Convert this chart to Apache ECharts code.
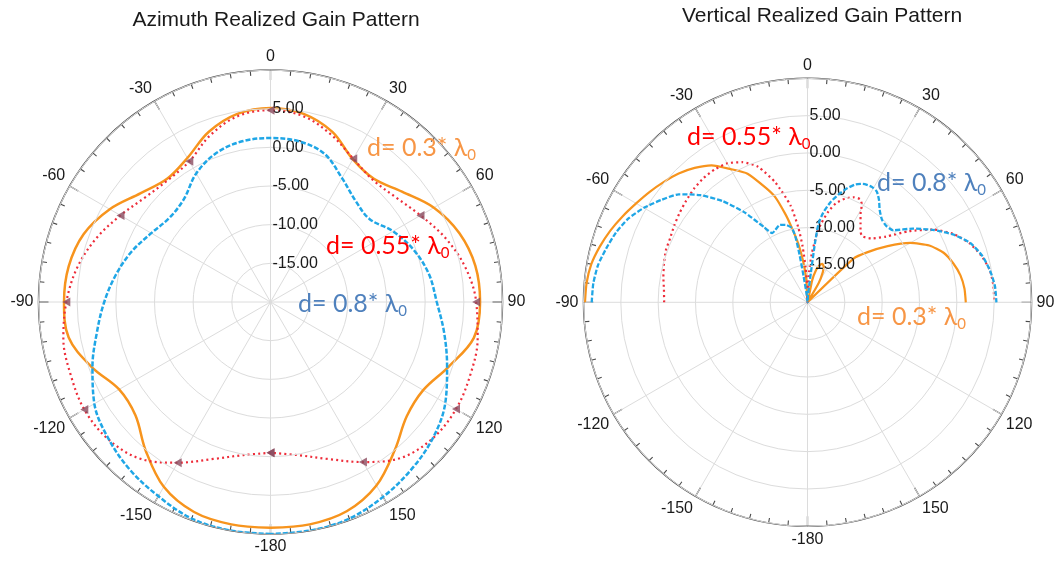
<!DOCTYPE html>
<html>
<head>
<meta charset="utf-8">
<title>Realized Gain Patterns</title>
<script src="https://cdn.jsdelivr.net/npm/echarts@6/dist/echarts.min.js"></script>
<style>
  html, body { margin: 0; padding: 0; background: #ffffff; }
  #chart { width: 1056px; height: 566px; }
</style>
</head>
<body>
<div id="chart"></div>
<script>
// ---------- Azimuth cut (degrees, dB), sampled every 10 degrees ----------
const aziAngles = [-180,-170,-160,-150,-140,-130,-120,-110,-100,-90,-80,-70,-60,-50,-40,-30,-20,-10,
                   0,10,20,30,40,50,60,70,80,90,100,110,120,130,140,150,160,170,180];
const aziGain03  = [9.2,9.2,8.9,7.6,5.1,2.8,2.6,4.6,6.5,6.7,6.5,5.7,4.0,1.9,0.8,1.5,3.4,4.7,
                    5.1,4.7,3.4,1.3,0.8,2.2,4.4,6.0,6.9,7.1,6.7,4.5,2.8,3.0,5.0,7.4,8.8,9.2,9.2];
const aziGain055 = [-0.5,0.1,1.6,4.0,6.4,7.5,7.8,7.5,7.2,6.4,5.4,4.0,2.4,1.1,0.6,1.0,2.9,4.4,
                    4.8,4.4,3.0,1.4,0.6,1.1,2.4,4.1,5.6,6.6,7.2,7.5,7.7,7.4,6.3,3.9,1.6,0.1,-0.5];
const aziGain08  = [10.0,10.0,9.8,9.0,8.3,7.4,6.3,4.5,2.8,1.5,0.3,-0.9,-2.2,-3.0,-2.6,-0.8,0.5,1.1,
                    1.2,1.1,0.4,-1.5,-2.9,-3.3,-1.7,-0.3,0.8,1.5,2.8,4.3,6.1,7.4,8.3,9.1,9.8,10.0,10.0];
// Marker positions on the 0.55 curve
const aziMarkerAngles = [-180,-150,-120,-90,-60,-30,0,30,60,90,120,150,180];

// ---------- Vertical cut (degrees, dB) ----------
const vAngles03 = [-90,-85,-80,-75,-70,-65,-60,-55,-50,-45,-40,-35,-30,-25,-20,-17,-14,-12,-9,-6,-3,0,
                   10,12,15,18,21,24,27,30,32,45,46.5,50,55,60,65,70,75,80,85,90];
const vGain03   = [9.8,9.7,9.4,8.8,8.1,7.3,6.5,5.8,5.1,4.4,3.5,2.4,0.6,-1.0,-3.7,-5.3,-7.9,-9.7,-12.0,-14.5,-17.0,-20,
                   -20,-17.0,-15.5,-14.8,-14.5,-14.7,-15.5,-17.0,-20,-20,-11.5,-9.6,-6.9,-4.1,-2.0,-0.6,0.2,0.8,1.1,1.2];

const vAngles055 = [-90,-85,-80,-75,-70,-65,-60,-55,-50,-45,-40,-35,-30,-25,-20,-15,-10,-7,-5,-3,-1,0,
                    3,5,8,10,13,16,20,24,27,29,31,34,37,40,45,50,55,60,65,70,75,80,85,90];
const vGain055   = [-0.8,-0.7,-0.4,-0.1,0.2,0.3,0.6,0.9,1.2,1.5,1.7,1.7,1.5,0.7,-0.7,-3.4,-6.8,-9.9,-12.5,-15.5,-18.5,-20,
                    -16,-13.5,-10.5,-9.2,-7.5,-6.2,-5.2,-4.6,-4.5,-5.0,-6.2,-7.3,-8.2,-8.5,-7.9,-6.3,-3.4,-0.5,1.6,3.1,4.1,4.8,5.0,5.0];

const vAngles08 = [-90,-85,-80,-75,-70,-65,-60,-55,-50,-45,-40,-35,-30,-27,-24,-20,-16,-12,-10.5,-9.5,-8.5,-6,0,
                   4,6.5,7.2,8,10,13,16,19,22,25,29,32,35,38,42,46,50,55,60,65,70,75,80,85,90];
const vGain08   = [8.9,8.8,8.5,7.9,7.3,6.5,5.3,3.9,2.5,0.3,-2.3,-5.3,-8.4,-9.6,-9.4,-9.0,-9.2,-9.8,-11.0,-13.5,-16.5,-19.0,-20,
                   -19.0,-16.0,-12.0,-9.3,-7.8,-6.2,-5.0,-3.9,-3.0,-2.5,-2.3,-2.5,-3.3,-4.3,-5.1,-5.3,-5.0,-2.8,-0.6,1.5,3.2,4.2,4.8,5.2,5.3];

// ---------- Axis settings ----------
const gainMin = -20, gainMax = 10, gainStep = 5;
const gainTickLabels = [-15, -10, -5, 0, 5];
const angleStep = 30;

const COLOR_03 = '#F7941D';
const COLOR_055 = '#EE2D3A';
const COLOR_08 = '#1FA6E6';
const MARKER_COLOR = '#8A4A5E';
const AXIS_COLOR = '#4a4a4a';
const FONT = '"Liberation Sans", Arial, sans-serif';
const NOTE_FONT = 'Lato, "Open Sans", sans-serif';

// 0 at top, clockwise; angles past 180 are labelled as negative
const wrap = a => ((a % 360) + 360) % 360;
const toPolar = (angles, gains) => angles.map((a, i) => [gains[i], wrap(a)]);

function angleAxis(polarIndex) {
  return {
    polarIndex,
    type: 'value', min: 0, max: 360, interval: angleStep,
    startAngle: 90, clockwise: true,
    axisLine: { show: true, lineStyle: { color: AXIS_COLOR, width: 1.5 } },
    axisTick: { show: true, inside: true, length: 10, lineStyle: { color: AXIS_COLOR, width: 1.3 } },
    minorTick: { show: true, splitNumber: 6, length: 5, lineStyle: { color: AXIS_COLOR, width: 1.1 } },
    axisLabel: {
      margin: 5, fontSize: 16, color: '#1a1a1a', fontFamily: FONT,
      formatter: v => (v === 360 ? '' : String(v >= 180 ? v - 360 : v))
    },
    splitLine: { show: true, lineStyle: { color: '#dcdcdc', width: 1 } }
  };
}

function radiusAxis(polarIndex) {
  return {
    polarIndex,
    type: 'value', min: gainMin, max: gainMax, interval: gainStep,
    axisLine: { show: false }, axisTick: { show: false },
    axisLabel: {
      margin: -2, align: 'left', verticalAlign: 'middle', padding: [0, 0, 8, 0],
      fontSize: 16, color: '#1a1a1a', fontFamily: FONT,
      formatter: v => (gainTickLabels.indexOf(v) >= 0 ? v.toFixed(2) : '')
    },
    splitLine: { show: true, lineStyle: { color: '#dcdcdc', width: 1 } },
    z: 5
  };
}

function gainLine(polarIndex, angles, gains, color, type, width, smooth, z) {
  return {
    type: 'line', coordinateSystem: 'polar', polarIndex,
    data: toPolar(angles, gains),
    symbol: 'none', showSymbol: false, smooth, clip: false,
    lineStyle: { color, width, type, cap: 'butt' },
    z
  };
}

function note(x, y, main, color) {
  return {
    type: 'text', x, y, z: 100,
    style: {
      text: '{m|' + main + '}{s|0}',
      align: 'left', verticalAlign: 'middle',
      rich: {
        m: { fontSize: 25, fontFamily: NOTE_FONT, fill: color, lineHeight: 30 },
        s: { fontSize: 15, fontFamily: NOTE_FONT, fill: color, lineHeight: 12, verticalAlign: 'bottom' }
      }
    }
  };
}

const markerData = aziMarkerAngles.map(a => [aziGain055[aziAngles.indexOf(a)], wrap(a)]);

const chart = echarts.init(document.getElementById('chart'), null, { renderer: 'canvas' });
chart.setOption({
  animation: false,
  backgroundColor: '#ffffff',
  title: [
    { text: 'Azimuth Realized Gain Pattern', left: 271, top: 5, textAlign: 'center',
      textStyle: { fontSize: 21, fontWeight: 'normal', color: '#1a1a1a', fontFamily: FONT } },
    { text: 'Vertical Realized Gain Pattern', left: 817, top: 1, textAlign: 'center',
      textStyle: { fontSize: 21, fontWeight: 'normal', color: '#1a1a1a', fontFamily: FONT } }
  ],
  polar: [
    { center: [270.5, 302], radius: 232 },
    { center: [807.5, 302.3], radius: 224 }
  ],
  angleAxis: [angleAxis(0), angleAxis(1)],
  radiusAxis: [radiusAxis(0), radiusAxis(1)],
  series: [
    gainLine(0, aziAngles, aziGain03, COLOR_03, 'solid', 2.5, 0.35, 3),
    gainLine(0, aziAngles, aziGain055, COLOR_055, [2, 3.2], 2.2, 0.35, 4),
    gainLine(0, aziAngles, aziGain08, COLOR_08, [5, 2], 2.5, 0.35, 5),
    {
      type: 'scatter', coordinateSystem: 'polar', polarIndex: 0,
      data: markerData, symbol: 'triangle', symbolRotate: 90, symbolSize: [9, 8],
      itemStyle: { color: MARKER_COLOR }, z: 6
    },
    gainLine(1, vAngles03, vGain03, COLOR_03, 'solid', 2.2, 0.2, 3),
    gainLine(1, vAngles055, vGain055, COLOR_055, [2, 3.2], 2.2, 0.2, 4),
    gainLine(1, vAngles08, vGain08, COLOR_08, [5, 2], 2.3, 0.2, 5)
  ],
  graphic: [
    note(367, 147.6, 'd= 0.3* λ', '#F79646'),
    note(326, 245.6, 'd= 0.55* λ', '#FF0000'),
    note(298, 303.6, 'd= 0.8* λ', '#4F81BD'),
    note(687, 136.6, 'd= 0.55* λ', '#FF0000'),
    note(877, 182.6, 'd= 0.8* λ', '#4F81BD'),
    note(857, 316.6, 'd= 0.3* λ', '#F79646')
  ]
});
</script>
</body>
</html>
